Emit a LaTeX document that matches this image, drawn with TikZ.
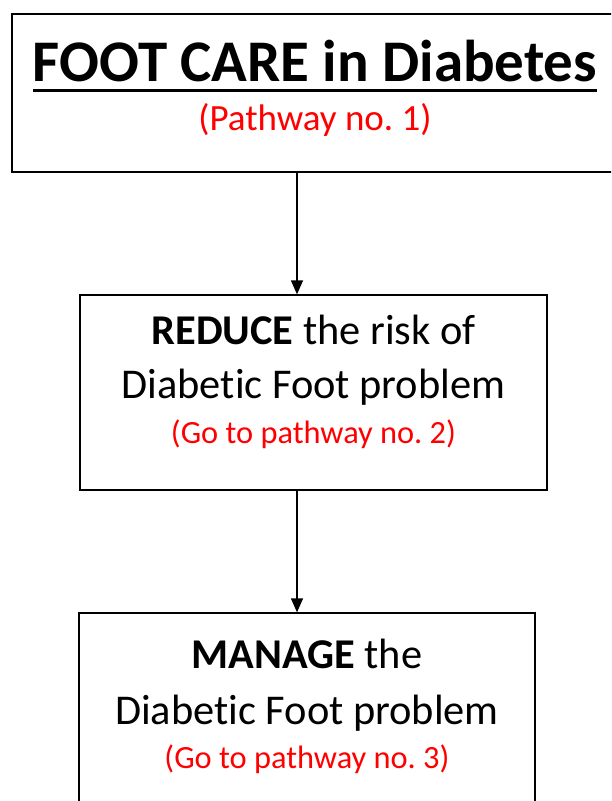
\documentclass[tikz,border=0pt]{standalone}
\usepackage{fontspec}
\setmainfont{Carlito}[Ligatures=NoCommon]
\usetikzlibrary{arrows.meta}
\tikzstyle{box}=[rectangle, draw, line width=1.3pt, align=center, inner sep=0pt]
\tikzstyle{to}=[-{Triangle[length=14pt,width=12pt]}, line width=1.3pt]
\newcommand{\sz}[2]{\fontsize{#1}{#2}\selectfont\spaceskip=\fontdimen2\font\xspaceskip=\fontdimen2\font}
\newcommand{\thickul}[1]{\setbox0\hbox{#1}\rlap{\raisebox{-10.5pt}{\rule{\wd0}{3pt}}}\box0}

\begin{document}
\begin{tikzpicture}[x=1pt,y=-1pt]

\useasboundingbox (0,0) rectangle (611,801);
\clip (0,0) rectangle (611,801);

\node (A) [box, minimum width=606pt, minimum height=158pt, text width=600pt] at (315,93)
  {\sz{59}{60}\bfseries\thickul{FOOT CARE in Diabetes}\par
   \sz{37}{49}\mdseries\color{red}(Pathway no. 1)\par\vspace{9pt}};

\node (B) [box, minimum width=467pt, minimum height=195pt, text width=460pt] at (313.5,392.5)
  {\sz{42.4}{54}\textbf{REDUCE} the risk of\\Diabetic Foot problem\par
   \sz{32.4}{45}\color{red}(Go to pathway no. 2)\par\vspace{22pt}};

\node (C) [box, minimum width=456pt, minimum height=195pt, text width=450pt] at (307,710.5)
  {\sz{42.4}{56}\textbf{MANAGE} the\\Diabetic Foot problem\par
   \sz{32.4}{44}\color{red}(Go to pathway no. 3)\par\vspace{8pt}};

\draw [to] ([xshift=-18pt]A.south) -- ([xshift=-16.5pt]B.north);
\draw [to] ([xshift=-16.5pt]B.south) -- ([xshift=-10pt]C.north);

\end{tikzpicture}
\end{document}
